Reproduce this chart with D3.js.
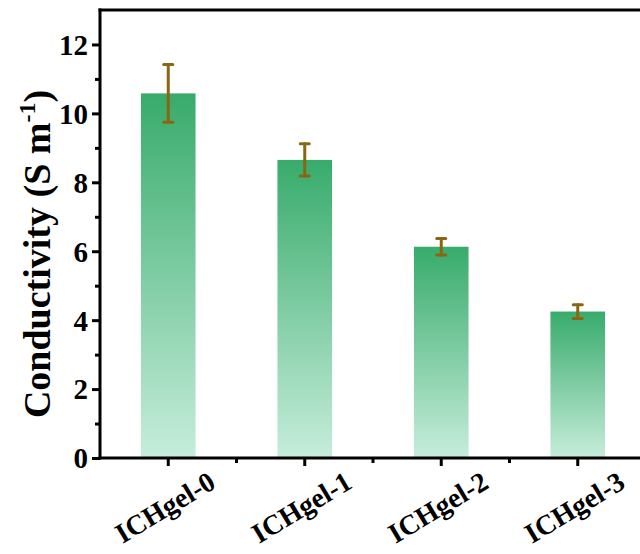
<!DOCTYPE html>
<html><head><meta charset="utf-8">
<script src="https://cdn.jsdelivr.net/npm/d3@7"></script>
<style>body{margin:0;background:#fff;} svg{display:block;}</style>
</head><body>
<script>
const categories = ["ICHgel-0","ICHgel-1","ICHgel-2","ICHgel-3"];
const values = [10.58, 8.65, 6.13, 4.25];
const errors = [0.84, 0.47, 0.24, 0.20];
const yTicks = [0,2,4,6,8,10,12];
const yMinor = [1,3,5,7,9,11];
const yLabel = "Conductivity (S m";

const W = 640, H = 554;
const m = {left:100, top:10, right:-6, bottom:96};
const svg = d3.select("body").append("svg").attr("width",W).attr("height",H);
const defs = svg.append("defs");
const grad = defs.append("linearGradient").attr("id","g").attr("x1",0).attr("y1",0).attr("x2",0).attr("y2",1);
grad.append("stop").attr("offset","0%").attr("stop-color","#38ab6b");
grad.append("stop").attr("offset","100%").attr("stop-color","#c6eddb");

const x = d3.scaleBand().domain(categories).range([m.left, W - m.right]).paddingInner(0.6).paddingOuter(0.3);
const y = d3.scaleLinear().domain([0,13]).range([H - m.bottom, m.top]);
const font = "'Liberation Serif','Times New Roman',serif";

// bars
svg.selectAll("rect.bar").data(values).join("rect").attr("class","bar")
  .attr("x",(d,i)=>x(categories[i])).attr("width",x.bandwidth())
  .attr("y",d=>y(d)).attr("height",d=>y(0)-y(d)).attr("fill","url(#g)");

// error bars
const ec = "#8a6512";
const eg = svg.append("g").attr("stroke",ec).attr("stroke-width",3).attr("stroke-linecap","round");
values.forEach((v,i)=>{
  const cx = x(categories[i]) + x.bandwidth()/2;
  eg.append("line").attr("x1",cx).attr("x2",cx).attr("y1",y(v+errors[i])).attr("y2",y(v-errors[i]));
  [v+errors[i], v-errors[i]].forEach(e=>{
    eg.append("line").attr("x1",cx-4.5).attr("x2",cx+4.5).attr("y1",y(e)).attr("y2",y(e));
  });
});

// frame top
svg.append("line").attr("x1",m.left-1.5).attr("x2",W).attr("y1",m.top).attr("y2",m.top).attr("stroke","#000").attr("stroke-width",3);

// y axis
const ya = svg.append("g").attr("transform",`translate(${m.left},0)`)
  .call(d3.axisLeft(y).tickValues(yTicks).tickSize(8).tickPadding(4).tickFormat(d3.format("d")));
ya.select(".domain").remove();
ya.selectAll(".tick line").attr("stroke-width",3);
ya.selectAll("text").attr("font-family",font).attr("font-weight","bold").attr("font-size",29).attr("fill","#000").attr("dy","0.34em");
svg.append("g").attr("transform",`translate(${m.left},0)`)
  .call(d3.axisLeft(y).tickValues(yMinor).tickSize(5).tickFormat(""))
  .call(g=>g.select(".domain").remove())
  .selectAll(".tick line").attr("stroke-width",3);
svg.append("line").attr("x1",m.left).attr("x2",m.left).attr("y1",m.top-1.5).attr("y2",y(0)+1.5).attr("stroke","#000").attr("stroke-width",3);

// x axis
const xa = svg.append("g").attr("transform",`translate(0,${y(0)})`)
  .call(d3.axisBottom(x).tickSize(8).tickSizeOuter(0));
xa.select(".domain").remove();
xa.selectAll(".tick line").attr("stroke-width",3);
xa.selectAll("text").attr("font-family",font).attr("font-weight","bold").attr("font-size",28).attr("fill","#000")
  .attr("text-anchor","end").attr("dy",0).attr("y",0)
  .attr("transform","translate(49,29) rotate(-31)");
const step = x.step();
const minorX = categories.map(c => x(c) + x.bandwidth()/2 + step/2);
svg.append("g").selectAll("line").data(minorX).join("line")
  .attr("x1",d=>d).attr("x2",d=>d).attr("y1",y(0)).attr("y2",y(0)+5).attr("stroke","#000").attr("stroke-width",3);
svg.append("line").attr("x1",m.left-1.5).attr("x2",W).attr("y1",y(0)).attr("y2",y(0)).attr("stroke","#000").attr("stroke-width",3);

// y label
const lab = svg.append("text").attr("transform",`translate(50,${(y(0)+m.top)/2+20}) rotate(-90)`)
  .attr("text-anchor","middle").attr("font-family",font).attr("font-weight","bold").attr("font-size",38).attr("fill","#000");
lab.append("tspan").text(yLabel);
lab.append("tspan").attr("font-size",24).attr("dy",-15).text("-1");
lab.append("tspan").attr("dy",15).text(")");
</script>
</body></html>
